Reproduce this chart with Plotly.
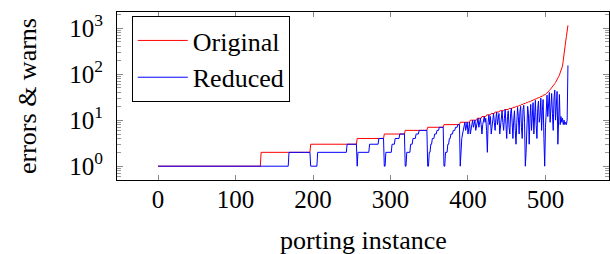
import numpy as np
import plotly.graph_objects as go

# Original (red): sorted step levels with run lengths
red_levels = [1, 2, 3, 4, 5, 6, 7, 8, 9, 10, 11, 12, 13, 14, 15, 16, 17, 18, 19, 20,
              21, 22, 23, 24, 25, 26, 27, 28, 29, 30, 31, 32, 33, 35, 36,
              38, 40, 41, 42, 44, 46, 48, 50, 52, 55, 58, 62, 66, 70, 75, 80, 88, 96,
              105, 115, 130, 150, 200, 300, 400, 500, 650, 850, 1150]
red_counts = [133, 64, 60, 35, 27, 29, 21, 21, 13, 9, 6, 6, 6, 5, 6, 6, 6, 5, 4, 4,
              3, 3, 3, 3, 3, 2, 2, 2, 2, 2, 2, 2, 2, 2, 2,
              1, 1, 1, 1, 1, 1, 1, 1, 1, 1, 1, 1, 1, 1, 1, 1, 1, 1,
              1, 1, 1, 1, 1, 1, 1, 1, 1, 1, 1]

# Reduced (blue): run lengths for the first 390 instances
blue_levels = [1, 2,
               1, 2, 3,
               1, 2, 3, 4,
               1, 2, 3, 4, 5,
               1, 2, 3, 4, 5, 6,
               1, 2, 3, 4, 5, 6, 7,
               1, 2, 3, 4, 5, 6, 7, 8]
blue_counts = [169, 28,
               9, 38, 13,
               1, 15, 12, 7,
               2, 8, 4, 6, 7,
               2, 5, 3, 4, 4, 11,
               2, 2, 2, 3, 3, 3, 6,
               2, 3, 2, 2, 3, 3, 3, 3]
# Reduced (blue): individual values for instances 390..529
blue_tail = [1, 3, 4, 5, 6, 8, 9, 6, 8, 9, 5, 7, 9,
             5, 6, 8, 10, 7, 9, 10, 6, 8,
             10, 11, 7, 9, 11, 8,
             5, 8, 11, 12, 9, 11,
             6, 2, 9, 13, 8, 12,
             5, 7, 12, 14, 9,
             6, 11, 15, 8, 12, 14,
             5, 7, 13, 16, 9, 6,
             11, 17, 8, 4, 12, 16,
             7, 5, 14, 18, 9,
             4, 10, 16, 6,
             3, 9, 19, 12,
             5, 15, 20,
             7, 4, 17,
             21, 9, 1,
             2, 8, 20,
             14, 3, 11,
             22, 6, 10, 24, 5, 13, 27, 8, 4, 18, 26, 9, 12, 30, 6, 16, 28, 4, 1, 7,
             20, 35, 12, 28, 40, 9, 22, 38, 14, 6, 30, 45, 10, 25, 42, 3, 18, 36, 8, 12,
             9, 11, 8, 10, 8, 9, 8, 10, 155]

original = np.repeat(red_levels, red_counts)
reduced = np.concatenate([np.repeat(blue_levels, blue_counts), blue_tail])
instances = np.arange(len(original))

x_ticks = [0, 100, 200, 300, 400, 500]
y_ticks = [1, 10, 100, 1000]
y_ticktext = ["10<sup>0</sup>", "10<sup>1</sup>", "10<sup>2</sup>", "10<sup>3</sup>"]
y_minor = [0.5, 0.6, 0.7, 0.8, 0.9, 2, 3, 4, 5, 6, 7, 8, 9,
           20, 30, 40, 50, 60, 70, 80, 90, 200, 300, 400, 500, 600, 700, 800, 900, 2000]

FONT = "Liberation Serif"

fig = go.Figure()
fig.add_trace(go.Scatter(x=instances, y=original, mode="lines", name="Original",
                         line=dict(color="#ff0000", width=1)))
fig.add_trace(go.Scatter(x=instances, y=reduced, mode="lines", name="Reduced",
                         line=dict(color="#0000ff", width=1)))

fig.update_layout(
    width=610, height=254,
    margin=dict(l=117, r=1, t=12, b=74, autoexpand=False),
    paper_bgcolor="white", plot_bgcolor="white",
    font=dict(family=FONT, size=25, color="black"),
    showlegend=True,
    legend=dict(x=0.03, y=0.976, xanchor="left", yanchor="top",
                bordercolor="black", borderwidth=1, bgcolor="white",
                font=dict(family=FONT, size=26), tracegroupgap=0,
                itemwidth=50),
    annotations=[
        dict(text="porting instance", xref="paper", yref="paper", x=0.5,
             y=-(240 - 180) / 168, xanchor="center", yanchor="middle",
             showarrow=False, font=dict(family=FONT, size=26)),
        dict(text="errors & warns", xref="paper", yref="paper",
             x=(27 - 117) / 492, y=0.5, xanchor="center", yanchor="middle",
             textangle=-90, showarrow=False, font=dict(family=FONT, size=26)),
    ],
)
fig.update_xaxes(
    range=[-53, 582], tickvals=x_ticks, ticks="inside", ticklen=5,
    tickcolor="#888888", tickwidth=1, mirror="allticks", showline=True,
    linecolor="black", linewidth=1, showgrid=False, zeroline=False,
    automargin=False, ticklabelstandoff=-3,
    tickfont=dict(family=FONT, size=25),
)
fig.update_yaxes(
    type="log", range=[-0.30, 3.35], tickvals=y_ticks, ticktext=y_ticktext,
    ticks="inside", ticklen=6, tickcolor="#888888", tickwidth=1,
    mirror="allticks", showline=True, linecolor="black", linewidth=1,
    showgrid=False, zeroline=False, automargin=False, ticklabelstandoff=8,
    tickfont=dict(family=FONT, size=25),
    minor=dict(tickvals=y_minor, ticks="inside", ticklen=4, tickcolor="#999999",
               tickwidth=1, showgrid=False),
)

fig.write_html(
    "out.html",
    config={"displayModeBar": False},
    post_script="document.body.style.margin='0';document.body.style.padding='0';",
)
